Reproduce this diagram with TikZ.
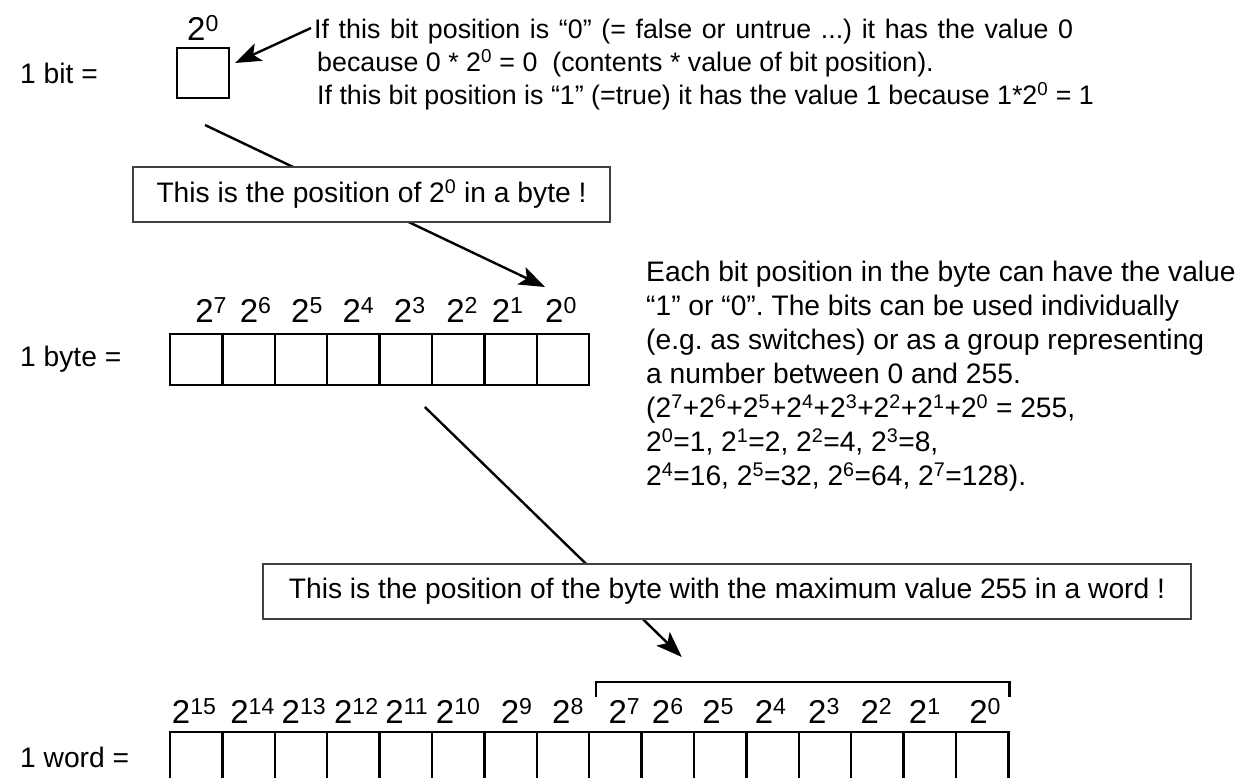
\documentclass[tikz,border=0pt]{standalone}
\usepackage{fontspec}
\setmainfont{Liberation Sans}
\usetikzlibrary{arrows.meta,positioning,backgrounds,calc}

\newcommand{\twoto}[1]{2\textsuperscript{#1}}

\begin{document}
\begin{tikzpicture}[x=1pt, y=-1pt,
    txt/.style={font=\fontsize{28.2}{34}\selectfont\frenchspacing, inner sep=0pt},
    small/.style={txt, font=\fontsize{26.8}{33}\selectfont\frenchspacing},
    expo/.style={font=\fontsize{33}{36}\selectfont, inner sep=0pt},
    cell/.style={draw, line width=2.5pt, minimum width=52.4pt, minimum height=51pt, inner sep=0pt, outer sep=0pt},
    note/.style={draw=black!75, line width=1.1pt, fill=white, minimum height=55pt, inner sep=0pt, font=\fontsize{28.2}{34}\selectfont},
    arr/.style={-{Stealth[length=26pt, width=19pt, inset=6pt]}, line width=2.4pt},
    brk/.style={line width=2.5pt}
  ]
    \useasboundingbox (0,0) rectangle (1245,778);
    \clip (0,0) rectangle (1245,778);

    % one bit
    \node[txt, anchor=west] (bitlbl) at (20,73) {1 bit =};
    \node[cell, minimum width=52pt, minimum height=50pt] (bit) at (203,73) {};
    \node[expo, above=7pt of bit] (bite) {\twoto{0}};
    \node[small, anchor=north west, align=left] (bitnote) at (317,19)
      {\hspace*{-3pt}\makebox[759pt][s]{If this bit position is “0” (= false or untrue ...) it has the value 0}\\
       because 0 * \twoto{0} = 0\ \ (contents * value of bit position).\\
       If this bit position is “1” (=true) it has the value 1 because 1*\twoto{0} = 1};
    \draw[arr] ($(bitnote.north west)+(-6,9)$) -- ($(bit.east)+(6,-10)$);

    % one byte
    \node[txt, anchor=west] (bytelbl) at (20,359.5) {1 byte =};
    \foreach \i/\dx in {0/15,1/7,2/6,3/5,4/4,5/4,6/-3,7/-2} {
      \pgfmathtruncatemacro{\e}{7-\i}
      \node[cell] (b\i) at ({170+52.4*(\i+0.5)},359.5) {};
      \node[expo, above=11pt of b\i, xshift=\dx pt] (be\i) {\twoto{\e}};
    }
    \node[txt, anchor=north west, align=left] (bytenote) at (646,261)
      {Each bit position in the byte can have the value\\
       “1” or “0”. The bits can be used individually\\
       (e.g. as switches) or as a group representing\\
       a number between 0 and 255.\\
       (\twoto{7}+\twoto{6}+\twoto{5}+\twoto{4}+\twoto{3}+\twoto{2}+\twoto{1}+\twoto{0} = 255,\\
       \twoto{0}=1, \twoto{1}=2, \twoto{2}=4, \twoto{3}=8,\\
       \twoto{4}=16, \twoto{5}=32, \twoto{6}=64, \twoto{7}=128).};

    \node[note, minimum width=477pt] (bytepos) at (371.5,194.5) {This is the position of \twoto{0} in a byte !};
    \coordinate (drop) at ($(bit.south)+(2,27)$);
    \coordinate (hit) at ($(b7.north)+(-18,-47)$);

    % one word
    \node[txt, anchor=west] (wordlbl) at (20,757.5) {1 word =};
    \foreach \i/\dx in {0/-2,1/4,2/3,3/3,4/1,5/0,6/6,7/5,8/9,9/0,10/-2,11/-2,12/-1,13/-1,14/-5,15/3} {
      \pgfmathtruncatemacro{\e}{15-\i}
      \node[cell] (w\i) at ({170+52.4*(\i+0.5)},757.5) {};
      \node[expo, above=8pt of w\i, xshift=\dx pt] (we\i) {\twoto{\e}};
    }
    \draw[brk] ($(w8.north west)+(7,-35)$) |- ($(w15.north east)+(1,-50)$) -- ++(0,15);

    \node[note, minimum width=928pt] (wordpos) at (727,591.5) {This is the position of the byte with the maximum value 255 in a word !};
    \coordinate (lift) at ($(b4.south)+(19,22)$);
    \coordinate (land) at ($(w9.north)+(14,-75)$);

    \begin{scope}[on background layer]
      \draw[arr] (drop) -- (hit);
      \draw[arr] (lift) -- (land);
    \end{scope}
\end{tikzpicture}
\end{document}
